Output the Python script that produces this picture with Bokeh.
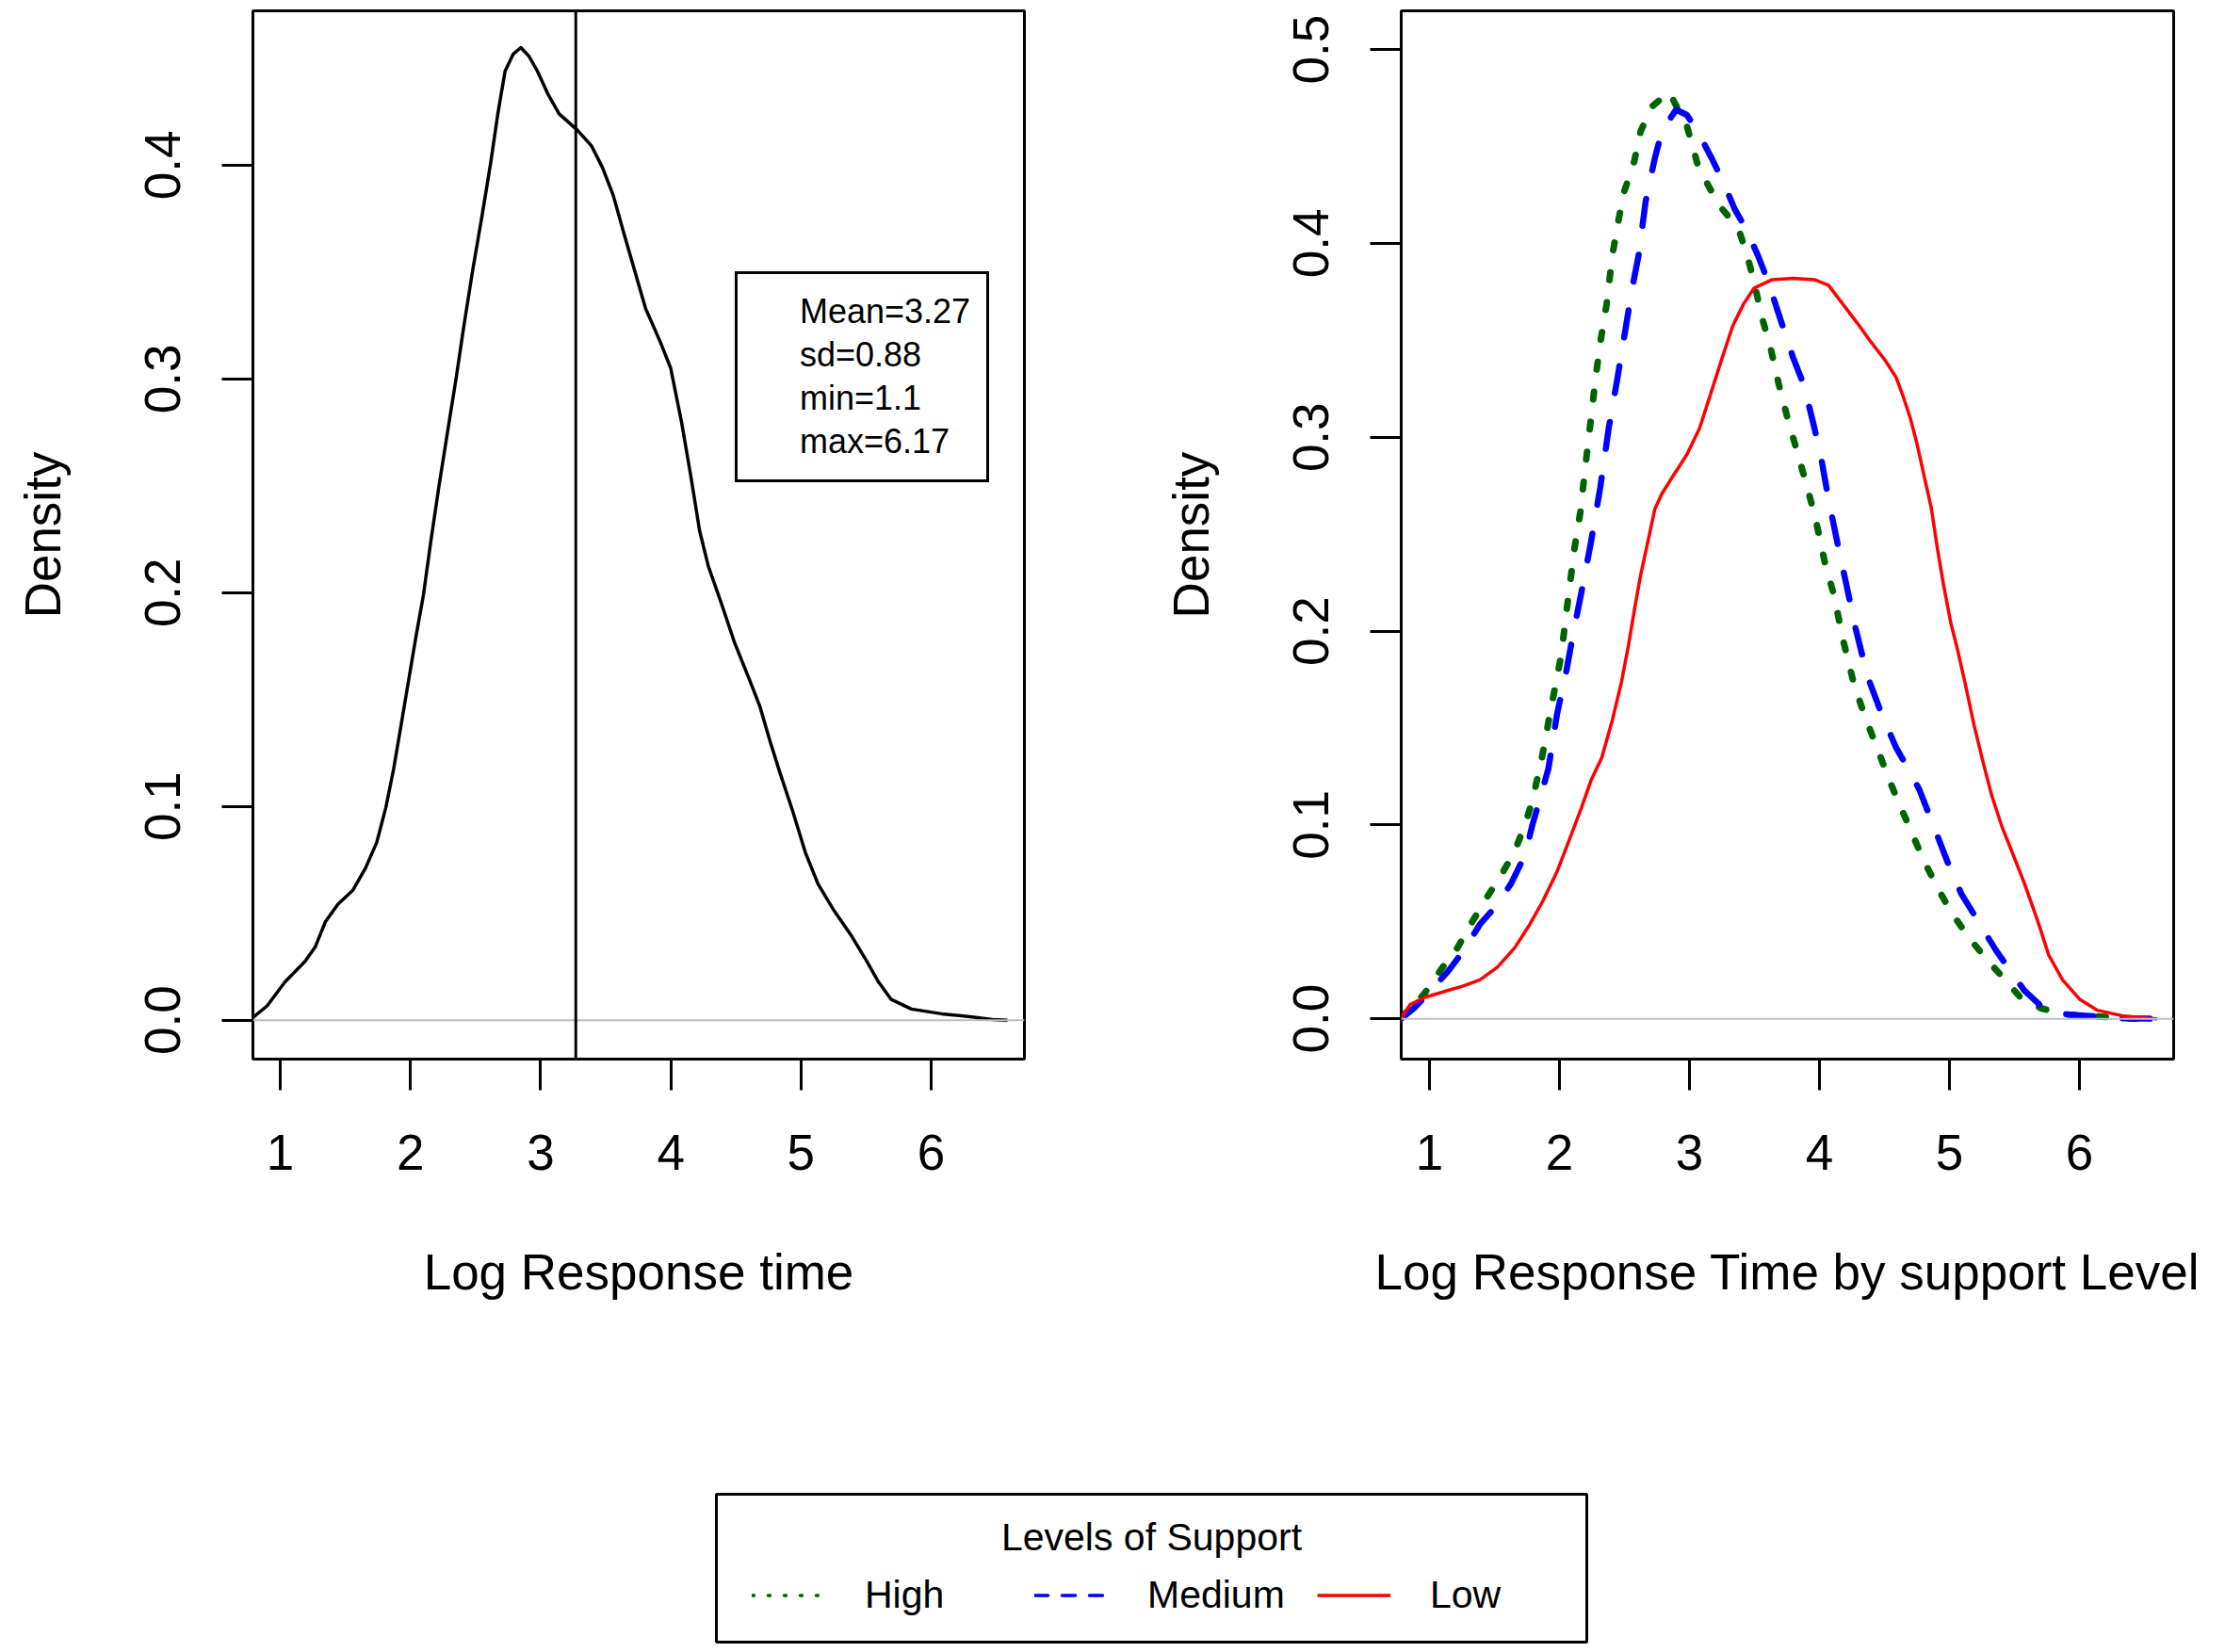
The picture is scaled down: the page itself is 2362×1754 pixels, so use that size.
from bokeh.plotting import figure
from bokeh.models import Range1d, FixedTicker, PrintfTickFormatter, Span, Legend, LegendItem, Label
from bokeh.layouts import column, row
from bokeh.embed import file_html
from bokeh.resources import INLINE

# ---------------- data ----------------
rt_x = [0.783, 0.899, 1.035, 1.19, 1.268, 1.346, 1.442, 1.559, 1.656, 1.741, 1.811, 1.87, 1.928,
        1.986, 2.043, 2.10, 2.156, 2.217, 2.283, 2.35, 2.411, 2.477, 2.549, 2.616, 2.671, 2.727,
        2.79, 2.848, 2.91, 2.975, 3.058, 3.142, 3.28, 3.391, 3.474, 3.557, 3.64, 3.723, 3.806,
        3.917, 3.999, 4.083, 4.155, 4.221, 4.288, 4.391, 4.489, 4.606, 4.683, 4.761, 4.838, 4.935,
        5.032, 5.13, 5.246, 5.382, 5.499, 5.596, 5.693, 5.848, 6.08, 6.314, 6.469, 6.586]
rt_y = [0.0009, 0.0067, 0.0178, 0.0275, 0.0342, 0.046, 0.0542, 0.0609, 0.0713, 0.0832, 0.0995,
        0.1173, 0.138, 0.159, 0.1797, 0.199, 0.2238, 0.249, 0.2745, 0.300, 0.325, 0.3505, 0.376,
        0.401, 0.424, 0.444, 0.452, 0.455, 0.451, 0.444, 0.433, 0.424, 0.4165, 0.409, 0.399,
        0.386, 0.368, 0.3505, 0.333, 0.3176, 0.305, 0.2796, 0.254, 0.229, 0.2124, 0.1945, 0.1767,
        0.159, 0.147, 0.1307, 0.1158, 0.098, 0.0787, 0.0638, 0.052, 0.040, 0.0282, 0.0178, 0.0097,
        0.0052, 0.003, 0.0015, 0.0003, 0.0]

high_x = [0.78, 0.823, 0.958, 1.092, 1.216, 1.334, 1.441, 1.549, 1.657, 1.737, 1.791, 1.861, 1.926,
          1.97, 2.014, 2.069, 2.117, 2.161, 2.205, 2.243, 2.282, 2.319, 2.363, 2.407, 2.45, 2.499,
          2.571, 2.625, 2.707, 2.844, 2.98, 3.062, 3.144, 3.226, 3.307, 3.39, 3.444, 3.498, 3.553,
          3.623, 3.689, 3.754, 3.825, 3.907, 3.972, 4.043, 4.114, 4.18, 4.262, 4.344, 4.442, 4.535,
          4.62, 4.716, 4.808, 4.905, 5.012, 5.146, 5.28, 5.414, 5.548, 5.71, 5.924, 6.166, 6.38, 6.595]
high_y = [0.0, 0.0035, 0.0127, 0.0257, 0.0367, 0.0506, 0.0626, 0.0737, 0.0866, 0.1005, 0.1124, 0.133,
          0.157, 0.1723, 0.1876, 0.218, 0.2433, 0.2614, 0.288, 0.31, 0.3325, 0.3506, 0.3687, 0.3938,
          0.4105, 0.427, 0.441, 0.4579, 0.4704, 0.478, 0.4607, 0.441, 0.43, 0.42, 0.4133, 0.405,
          0.3938, 0.38, 0.3631, 0.3464, 0.3269, 0.31, 0.2934, 0.274, 0.2573, 0.235, 0.218, 0.196,
          0.1736, 0.157, 0.14, 0.1235, 0.11, 0.095, 0.081, 0.068, 0.0552, 0.0422, 0.0312, 0.0211,
          0.0109, 0.0053, 0.002, 0.0011, 0.0002, 0.0]

medium_x = [0.78, 0.879, 1.013, 1.147, 1.27, 1.388, 1.523, 1.63, 1.737, 1.79, 1.845, 1.915, 1.981,
            2.052, 2.106, 2.172, 2.243, 2.314, 2.379, 2.445, 2.499, 2.56, 2.609, 2.663, 2.734, 2.789,
            2.897, 2.98, 3.062, 3.171, 3.252, 3.35, 3.433, 3.526, 3.607, 3.716, 3.798, 3.88, 3.962,
            4.017, 4.07, 4.137, 4.208, 4.278, 4.371, 4.48, 4.589, 4.70, 4.77, 4.878, 4.985, 5.092,
            5.227, 5.361, 5.479, 5.576, 5.71, 5.845, 6.113, 6.327, 6.595]
medium_y = [0.0, 0.0053, 0.0146, 0.0248, 0.0358, 0.0487, 0.0589, 0.07, 0.0847, 0.0995, 0.1124, 0.129,
            0.157, 0.179, 0.1987, 0.221, 0.246, 0.274, 0.3046, 0.33, 0.352, 0.377, 0.3938, 0.4216,
            0.444, 0.458, 0.469, 0.4663, 0.458, 0.444, 0.4328, 0.4175, 0.4078, 0.394, 0.38, 0.3576,
            0.341, 0.327, 0.3046, 0.288, 0.268, 0.246, 0.2238, 0.2015, 0.1764, 0.157, 0.14, 0.127,
            0.118, 0.0995, 0.081, 0.0644, 0.0497, 0.035, 0.0238, 0.0146, 0.0063, 0.0026, 0.0013,
            0.0002, 0.0]

low_x = [0.78, 0.851, 0.958, 1.12, 1.254, 1.388, 1.523, 1.657, 1.764, 1.872, 1.979, 2.086, 2.17,
         2.243, 2.325, 2.407, 2.477, 2.532, 2.581, 2.625, 2.68, 2.734, 2.789, 2.87, 2.98, 3.078,
         3.171, 3.252, 3.334, 3.416, 3.498, 3.636, 3.8, 3.962, 4.07, 4.18, 4.29, 4.398, 4.508,
         4.589, 4.643, 4.699, 4.753, 4.807, 4.862, 4.906, 4.955, 5.01, 5.064, 5.119, 5.19, 5.261,
         5.326, 5.408, 5.468, 5.576, 5.683, 5.763, 5.87, 6.005, 6.139, 6.327, 6.542, 6.6]
low_y = [0.0, 0.0073, 0.0109, 0.0142, 0.0168, 0.0201, 0.0266, 0.0367, 0.0478, 0.0607, 0.0755, 0.094,
         0.109, 0.123, 0.1346, 0.154, 0.1736, 0.193, 0.2126, 0.229, 0.246, 0.263, 0.271, 0.2796,
         0.291, 0.3046, 0.324, 0.341, 0.3576, 0.3687, 0.377, 0.3813, 0.382, 0.3813, 0.3784, 0.3687,
         0.359, 0.349, 0.3395, 0.331, 0.3213, 0.31, 0.296, 0.2796, 0.263, 0.2433, 0.2238, 0.2044,
         0.19, 0.1736, 0.1514, 0.1318, 0.1151, 0.0984, 0.0884, 0.07, 0.0497, 0.033, 0.0201, 0.0099,
         0.0044, 0.0016, 0.0002, 0.0]

mean_log_rt = 3.27
summary_labels = ["Mean=3.27", "sd=0.88", "min=1.1", "max=6.17"]
support_levels = ["High", "Medium", "Low"]
legend_title = "Levels of Support"

x_ticks = [1, 2, 3, 4, 5, 6]
y_ticks_left = [0.0, 0.1, 0.2, 0.3, 0.4]
y_ticks_right = [0.0, 0.1, 0.2, 0.3, 0.4, 0.5]

# ---------------- styling ----------------
FONT = "Liberation Sans"
FIG_H = 1560
NAN = float("nan")


def make_fig(width, border_left, border_right, xr, yr, xlabel, yticks):
    p = figure(width=width, height=FIG_H, x_range=Range1d(*xr), y_range=Range1d(*yr),
               output_backend="svg", toolbar_location=None,
               min_border_left=border_left, min_border_right=border_right,
               min_border_top=11, min_border_bottom=436)
    p.grid.visible = False
    p.outline_line_color = "black"
    p.outline_line_width = 3
    p.outline_line_alpha = 1.0
    p.background_fill_color = "white"
    p.border_fill_color = "white"
    for ax in (p.xaxis[0], p.yaxis[0]):
        ax.axis_line_color = None
        ax.major_tick_line_width = 3
        ax.major_tick_line_color = "black"
        ax.major_tick_in = 0
        ax.major_tick_out = 33
        ax.minor_tick_line_color = None
        ax.major_label_text_font = FONT
        ax.major_label_text_font_size = "53px"
        ax.major_label_text_color = "black"
        ax.axis_label_text_font = FONT
        ax.axis_label_text_font_size = "53px"
        ax.axis_label_text_font_style = "normal"
        ax.axis_label_text_color = "black"
    p.xaxis.ticker = FixedTicker(ticks=x_ticks)
    p.yaxis.ticker = FixedTicker(ticks=yticks)
    p.yaxis.formatter = PrintfTickFormatter(format="%.1f")
    p.xaxis.axis_label = xlabel
    p.yaxis.axis_label = "Density"
    p.yaxis.major_label_orientation = "vertical"
    p.xaxis.major_label_standoff = 47
    p.xaxis.axis_label_standoff = 76
    p.yaxis.major_label_standoff = 44
    p.yaxis.axis_label_standoff = 77
    p.add_layout(Span(location=0, dimension="width", line_color="#BEBEBE", line_width=2))
    return p


# ---------------- left panel ----------------
p1 = make_fig(1181, 268, 94, (0.79, 6.716), (-0.0182, 0.4722), "Log Response time", y_ticks_left)
p1.add_layout(Span(location=mean_log_rt, dimension="height", line_color="black", line_width=3))
p1.line(rt_x, rt_y, line_color="black", line_width=3.5, line_join="round")

ghost = p1.line(x=[], y=[], line_alpha=0)
summary = Legend(items=[LegendItem(label=t, renderers=[ghost]) for t in summary_labels],
                 location=(512, 612), orientation="vertical", padding=17, spacing=0, margin=0,
                 glyph_width=27, glyph_height=46, label_height=46, label_standoff=22,
                 label_text_font=FONT, label_text_font_size="36px", label_text_color="black",
                 border_line_color="black", border_line_width=3, border_line_alpha=1.0,
                 background_fill_color="white", background_fill_alpha=1.0)
p1.add_layout(summary)

# ---------------- right panel ----------------
p2 = make_fig(1179, 306, 53, (0.783, 6.725), (-0.0208, 0.52), "Log Response Time by support Level",
              y_ticks_right)
p2.line(high_x, high_y, line_color="#006400", line_width=7, line_dash="8 24", line_cap="round",
        line_join="round")
p2.line(medium_x, medium_y, line_color="#0000FF", line_width=6.5, line_dash="29 31", line_cap="round",
        line_join="round")
p2.line(low_x, low_y, line_color="#FF0000", line_width=3.5, line_join="round")

# ---------------- legend panel (the frame is the legend box) ----------------
p3 = figure(width=2360, height=190, x_range=Range1d(0, 1), y_range=Range1d(0, 1),
            output_backend="svg", toolbar_location=None, x_axis_location=None, y_axis_location=None,
            min_border_left=760, min_border_right=676, min_border_top=26, min_border_bottom=7)
p3.grid.visible = False
p3.outline_line_color = "black"
p3.outline_line_width = 3
p3.outline_line_alpha = 1.0
r_high = p3.line(x=[NAN], y=[NAN], line_color="#006400", line_width=3.5, line_dash="2 15", line_cap="round")
r_med = p3.line(x=[NAN], y=[NAN], line_color="#0000FF", line_width=3.5, line_dash="14 15", line_cap="round")
r_low = p3.line(x=[NAN], y=[NAN], line_color="#FF0000", line_width=3.5)
lg = Legend(items=[LegendItem(label=lab, renderers=[r]) for lab, r in zip(support_levels, [r_high, r_med, r_low])],
            location=(38, 26), orientation="horizontal", padding=0, spacing=18, margin=0,
            glyph_width=78, glyph_height=41, label_height=41, label_width=162, label_standoff=42,
            label_text_font=FONT, label_text_font_size="41px", label_text_color="black",
            border_line_color=None, background_fill_alpha=0.0)
p3.add_layout(lg)
p3.add_layout(Label(x=462, y=112, x_units="screen", y_units="screen", text=legend_title,
                    text_align="center", text_baseline="alphabetic", text_font=FONT,
                    text_font_size="41px", text_color="black"))

layout = column(row(p1, p2), p3)
open("out.html", "w").write(file_html(layout, INLINE))
